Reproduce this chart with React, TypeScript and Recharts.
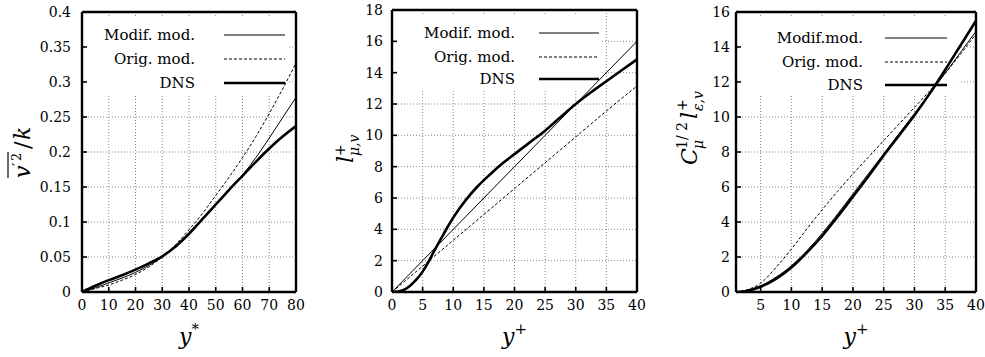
import React from 'react';
import { LineChart, Line, XAxis, YAxis, CartesianGrid, ReferenceArea, Legend } from 'recharts';

const FONT = "'DejaVu Serif', serif";
const TICK_FS = 14;
const LEG_FS = 15;

const names1 = ['Modif. mod.', 'Orig. mod.', 'DNS'];
const names2 = ['Modif. mod.', 'Orig. mod.', 'DNS'];
const names3 = ['Modif.mod.', 'Orig. mod.', 'DNS'];

// ---- Panel 1: v'^2/k vs y*
const p1X = [0, 5, 10, 15, 20, 25, 30, 35, 40, 45, 50, 55, 60, 65, 70, 75, 80];
const p1Modif = [0, 0.006, 0.013, 0.02, 0.028, 0.038, 0.05, 0.066, 0.085, 0.104, 0.124, 0.145, 0.167, 0.192, 0.22, 0.249, 0.278];
const p1Orig = [0, 0.005, 0.01, 0.017, 0.025, 0.036, 0.05, 0.068, 0.089, 0.112, 0.138, 0.164, 0.192, 0.222, 0.255, 0.29, 0.327];
const p1Dns = [0, 0.009, 0.017, 0.024, 0.032, 0.041, 0.051, 0.065, 0.083, 0.104, 0.125, 0.146, 0.166, 0.186, 0.205, 0.222, 0.237];
const p1XTicks = [0, 10, 20, 30, 40, 50, 60, 70, 80];
const p1YTicks = [0, 0.05, 0.1, 0.15, 0.2, 0.25, 0.3, 0.35, 0.4];

// ---- Panel 2: l+_{mu,v} vs y+
const p2LinX = [0, 5, 10, 15, 20, 25, 30, 35, 40];
const p2Modif = [0, 2, 4, 6, 8, 10, 12, 14, 16];
const p2Orig = [0, 1.65, 3.3, 4.95, 6.6, 8.25, 9.9, 11.55, 13.15];
const p2DnsX = [0, 1, 2, 3, 4, 5, 6, 7, 8, 9, 10, 12, 14, 16, 18, 20, 22.5, 25, 27.5, 30, 32.5, 35, 37.5, 40];
const p2Dns = [0, 0.03, 0.15, 0.42, 0.8, 1.3, 1.95, 2.7, 3.4, 4.1, 4.75, 5.85, 6.75, 7.5, 8.2, 8.8, 9.55, 10.3, 11.15, 12.0, 12.75, 13.45, 14.15, 14.85];
const p2XTicks = [0, 5, 10, 15, 20, 25, 30, 35, 40];
const p2YTicks = [0, 2, 4, 6, 8, 10, 12, 14, 16, 18];

// ---- Panel 3: C_mu^{1/2} l+_{eps,v} vs y+
const p3X = [1, 2.5, 5, 7.5, 10, 12.5, 15, 17.5, 20, 22.5, 25, 27.5, 30, 32.5, 35, 37.5, 40];
const p3Modif = [0, 0.06, 0.35, 0.85, 1.5, 2.35, 3.35, 4.45, 5.6, 6.75, 7.9, 9.05, 10.2, 11.35, 12.5, 13.7, 14.9];
const p3Orig = [0, 0.1, 0.5, 1.4, 2.45, 3.6, 4.7, 5.75, 6.75, 7.7, 8.65, 9.6, 10.55, 11.5, 12.5, 13.6, 14.75];
const p3Dns = [0, 0.04, 0.3, 0.75, 1.4, 2.25, 3.2, 4.3, 5.45, 6.6, 7.8, 8.95, 10.1, 11.35, 12.7, 14.1, 15.5];
const p3XTicks = [5, 10, 15, 20, 25, 30, 35, 40];
const p3YTicks = [0, 2, 4, 6, 8, 10, 12, 14, 16];

const zip = (xs: number[], ys: number[]) => xs.map((x, i) => ({ x, y: ys[i] }));

const STYLES = [
  { width: 1, dash: undefined as string | undefined },
  { width: 1, dash: '3 2' },
  { width: 2.6, dash: undefined as string | undefined },
];

const makeLegend = (names: string[], textRight: number, lx1: number, lx2: number, rows: number[]) => () => (
  <svg width={330} height={357} style={{ position: 'absolute', left: 0, top: 0, overflow: 'visible' }}>
    {names.map((n, i) => (
      <g key={n + i}>
        <text x={textRight} y={rows[i] + 5} textAnchor="end" style={{ fontFamily: FONT, fontSize: LEG_FS }} fill="#000">
          {n}
        </text>
        <line x1={lx1} x2={lx2} y1={rows[i]} y2={rows[i]} stroke="#000" strokeWidth={STYLES[i].width} strokeDasharray={STYLES[i].dash} />
      </g>
    ))}
  </svg>
);

const XLabel = ({ viewBox, sup, supSize }: any) => {
  const cx = viewBox ? viewBox.x + viewBox.width / 2 : 160;
  return (
    <text x={cx} y={344} textAnchor="middle" style={{ fontFamily: FONT }} fill="#000">
      <tspan fontStyle="italic" fontSize={22}>y</tspan>
      <tspan fontSize={supSize} dy={-10}>{sup}</tspan>
    </text>
  );
};

const YLabel1 = () => (
  <g transform="translate(30,150) rotate(-90)" fill="#000">
    <text x={-28} y={0} fontStyle="italic" fontSize={22} style={{ fontFamily: FONT }}>v</text>
    <text x={-16} y={-7} fontSize={15} style={{ fontFamily: FONT }}>′</text>
    <text x={-11} y={-9} fontSize={13} style={{ fontFamily: FONT }}>2</text>
    <line x1={-28} x2={-2} y1={-22} y2={-22} stroke="#000" strokeWidth={1.2} />
    <text x={1} y={0} fontSize={22} style={{ fontFamily: FONT }}>/</text>
    <text x={10} y={0} fontSize={22} fontStyle="italic" style={{ fontFamily: FONT }}>k</text>
  </g>
);

const YLabel2 = () => (
  <g transform="translate(23,147) rotate(-90)" fill="#000">
    <text x={-16} y={0} fontStyle="italic" fontSize={22} style={{ fontFamily: FONT }}>l</text>
    <text x={-9} y={-8} fontSize={14} style={{ fontFamily: FONT }}>+</text>
    <text x={-9} y={6} fontStyle="italic" fontSize={14} style={{ fontFamily: FONT }}>μ,v</text>
  </g>
);

const YLabel3 = () => (
  <g transform="translate(42,121) rotate(-90)" fill="#000">
    <text x={-44} y={0} fontStyle="italic" fontSize={22} style={{ fontFamily: FONT }}>C</text>
    <text x={-28} y={-10} fontSize={14} style={{ fontFamily: FONT }}>1/ 2</text>
    <text x={-28} y={6} fontStyle="italic" fontSize={14} style={{ fontFamily: FONT }}>μ</text>
    <text x={2} y={0} fontStyle="italic" fontSize={22} style={{ fontFamily: FONT }}>l</text>
    <text x={10} y={-10} fontSize={14} style={{ fontFamily: FONT }}>+</text>
    <text x={10} y={6} fontStyle="italic" fontSize={14} style={{ fontFamily: FONT }}>ε,v</text>
  </g>
);

type PanelProps = {
  left: number;
  margin: { top: number; right: number; bottom: number; left: number };
  yAxisWidth: number;
  yTickMargin: number;
  xDomain: [number, number];
  yDomain: [number, number];
  xTicks: number[];
  yTicks: number[];
  modif: { x: number; y: number }[];
  orig: { x: number; y: number }[];
  dns: { x: number; y: number }[];
  names: string[];
  box: { x1: number; x2: number; y1: number; y2: number };
  legend: () => React.ReactElement;
  xSup: string;
  xSupSize: number;
  yLabel: React.ReactElement;
};

const tickStyle = { fill: '#000', fontSize: TICK_FS, fontFamily: FONT, style: { fontFamily: FONT } };
const axisLineStyle = { stroke: '#000', strokeWidth: 2.4 };
const tickLineStyle = { stroke: '#000', strokeWidth: 1.6 };

function Panel(p: PanelProps) {
  return (
    <div style={{ position: 'absolute', left: p.left, top: 0, width: 330, height: 357, fontFamily: FONT }}>
      <LineChart width={330} height={357} margin={p.margin} style={{ fontFamily: FONT }}>
        <CartesianGrid xAxisId="b" yAxisId="l" stroke="#8a8a8a" strokeDasharray="1 2" strokeWidth={1} />
        <ReferenceArea xAxisId="b" yAxisId="l" x1={p.box.x1} x2={p.box.x2} y1={p.box.y1} y2={p.box.y2} fill="#fff" fillOpacity={1} stroke="none" />
        <XAxis
          xAxisId="b"
          type="number"
          dataKey="x"
          domain={p.xDomain}
          ticks={p.xTicks}
          allowDataOverflow
          interval={0}
          orientation="bottom"
          height={30}
          tickSize={-5}
          tickMargin={13}
          tick={tickStyle}
          axisLine={axisLineStyle}
          tickLine={tickLineStyle}
          label={<XLabel sup={p.xSup} supSize={p.xSupSize} />}
        />
        <XAxis
          xAxisId="t"
          type="number"
          dataKey="x"
          domain={p.xDomain}
          ticks={p.xTicks}
          allowDataOverflow
          interval={0}
          orientation="top"
          height={4}
          tickSize={-5}
          tick={false}
          axisLine={axisLineStyle}
          tickLine={tickLineStyle}
        />
        <YAxis
          yAxisId="l"
          type="number"
          domain={p.yDomain}
          ticks={p.yTicks}
          allowDataOverflow
          interval={0}
          orientation="left"
          width={p.yAxisWidth}
          tickSize={-5}
          tickMargin={p.yTickMargin}
          tick={tickStyle}
          axisLine={axisLineStyle}
          tickLine={tickLineStyle}
          label={p.yLabel}
        />
        <YAxis
          yAxisId="r"
          type="number"
          domain={p.yDomain}
          ticks={p.yTicks}
          allowDataOverflow
          interval={0}
          orientation="right"
          width={4}
          tickSize={-5}
          tick={false}
          axisLine={axisLineStyle}
          tickLine={tickLineStyle}
        />
        <Line xAxisId="b" yAxisId="l" data={p.orig} dataKey="y" name={p.names[1]} type="monotone" stroke="#000" strokeWidth={1} strokeDasharray="3 2" dot={false} isAnimationActive={false} />
        <Line xAxisId="b" yAxisId="l" data={p.modif} dataKey="y" name={p.names[0]} type="monotone" stroke="#000" strokeWidth={1} dot={false} isAnimationActive={false} />
        <Line xAxisId="b" yAxisId="l" data={p.dns} dataKey="y" name={p.names[2]} type="monotone" stroke="#000" strokeWidth={2.6} dot={false} isAnimationActive={false} />
        <Legend
          content={p.legend}
          layout="vertical"
          align="center"
          verticalAlign="middle"
          wrapperStyle={{ left: 0, top: 0, width: 330, height: 357, pointerEvents: 'none' }}
        />
      </LineChart>
    </div>
  );
}

export default function App() {
  return (
    <div style={{ position: 'absolute', left: 0, top: 0, width: 985, height: 357, background: '#fff', overflow: 'hidden', fontFamily: FONT }}>
      <Panel
        left={0}
        margin={{ top: 8, right: 30, bottom: 35, left: 32 }}
        yAxisWidth={50}
        yTickMargin={16}
        xDomain={[0, 80]}
        yDomain={[0, 0.4]}
        xTicks={p1XTicks}
        yTicks={p1YTicks}
        modif={zip(p1X, p1Modif)}
        orig={zip(p1X, p1Orig)}
        dns={zip(p1X, p1Dns)}
        names={names1}
        box={{ x1: 0.6, x2: 76.8, y1: 0.281, y2: 0.392 }}
        legend={makeLegend(names1, 195, 224, 285, [35, 59, 83])}
        xSup="*"
        xSupSize={15}
        yLabel={<YLabel1 />}
      />
      <Panel
        left={330}
        margin={{ top: 6, right: 19, bottom: 35, left: 22 }}
        yAxisWidth={40}
        yTickMargin={14}
        xDomain={[0, 40]}
        yDomain={[0, 18]}
        xTicks={p2XTicks}
        yTicks={p2YTicks}
        modif={zip(p2LinX, p2Modif)}
        orig={zip(p2LinX, p2Orig)}
        dns={zip(p2DnsX, p2Dns)}
        names={names2}
        box={{ x1: 0.3, x2: 34.2, y1: 12.85, y2: 17.65 }}
        legend={makeLegend(names2, 185, 209, 269, [33, 57, 79])}
        xSup="+"
        xSupSize={15}
        yLabel={<YLabel2 />}
      />
      <Panel
        left={655}
        margin={{ top: 8, right: 5, bottom: 35, left: 41 }}
        yAxisWidth={40}
        yTickMargin={11}
        xDomain={[1, 40]}
        yDomain={[0, 16]}
        xTicks={p3XTicks}
        yTicks={p3YTicks}
        modif={zip(p3X, p3Modif)}
        orig={zip(p3X, p3Orig)}
        dns={zip(p3X, p3Dns)}
        names={names3}
        box={{ x1: 1.3, x2: 37.2, y1: 11.3, y2: 15.7 }}
        legend={makeLegend(names3, 208, 230, 292, [38, 62, 85])}
        xSup="+"
        xSupSize={15}
        yLabel={<YLabel3 />}
      />
    </div>
  );
}
